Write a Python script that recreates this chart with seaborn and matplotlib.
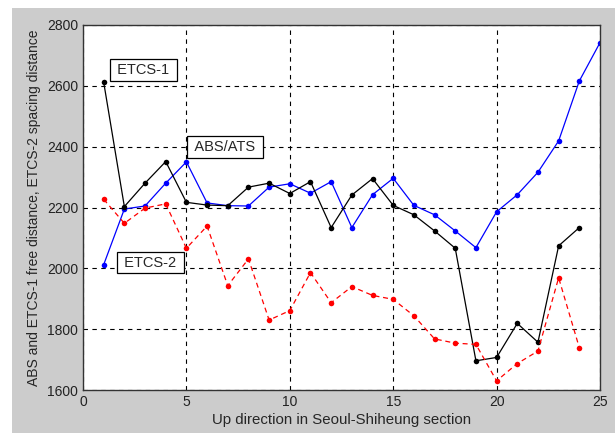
import pandas as pd
import seaborn as sns
import matplotlib.pyplot as plt
from matplotlib.patches import Rectangle

# section index along the line
sections_abs = list(range(1, 26))
sections_etcs = list(range(1, 25))

abs_ats = [2012, 2195, 2205, 2280, 2350, 2215, 2206, 2205, 2267, 2278,
           2247, 2285, 2134, 2242, 2296, 2207, 2176, 2123, 2068, 2186,
           2242, 2316, 2419, 2616, 2742]
etcs1 = [2612, 2203, 2280, 2351, 2217, 2208, 2206, 2267, 2280, 2246,
         2285, 2134, 2241, 2295, 2207, 2176, 2123, 2066, 1696, 1707,
         1819, 1757, 2074, 2134]
etcs2 = [2227, 2148, 2198, 2212, 2066, 2139, 1943, 2031, 1830, 1861,
         1986, 1887, 1940, 1911, 1898, 1844, 1768, 1754, 1750, 1630,
         1687, 1728, 1969, 1739]

df_abs = pd.DataFrame({"section": sections_abs, "dist": abs_ats})
df_e1 = pd.DataFrame({"section": sections_etcs, "dist": etcs1})
df_e2 = pd.DataFrame({"section": sections_etcs, "dist": etcs2})

sns.set_style("white")
plt.rcParams["font.family"] = ["Liberation Sans", "DejaVu Sans"]

fig = plt.figure(figsize=(6.15, 4.33), dpi=100)
fig.patch.set_facecolor("white")
# matlab-like gray figure panel
fig.patches.append(Rectangle((12 / 615, 0), 1 - 12 / 615, 1 - 8 / 433,
                             transform=fig.transFigure, facecolor="#cccccc",
                             edgecolor="none", zorder=-10))
ax = fig.add_axes([83 / 615, 1 - 390 / 433, (600 - 83) / 615, (390 - 25) / 433])
ax.set_facecolor("white")

sns.lineplot(data=df_abs, x="section", y="dist", ax=ax, color="blue",
             marker="o", markersize=4, markeredgewidth=0, linewidth=0.9)
sns.lineplot(data=df_e1, x="section", y="dist", ax=ax, color="black",
             marker="o", markersize=4, markeredgewidth=0, linewidth=0.9)
sns.lineplot(data=df_e2, x="section", y="dist", ax=ax, color="red",
             marker="o", markersize=4, markeredgewidth=0, linewidth=0.9,
             linestyle=(0, (4, 3)))

ax.set_xlim(0, 25)
ax.set_ylim(1600, 2800)
ax.set_xticks([0, 5, 10, 15, 20, 25])
ax.set_yticks([1600, 1800, 2000, 2200, 2400, 2600, 2800])
ax.grid(True, color="black", linestyle=(0, (4, 4)), linewidth=0.8)
ax.tick_params(direction="in", length=4, labelsize=10, colors="#222222")
for s in ax.spines.values():
    s.set_color("#333333")
    s.set_linewidth(1.0)

ax.set_xlabel("Up direction in Seoul-Shiheung section", fontsize=10.8, labelpad=3)
ax.set_ylabel("ABS and ETCS-1 free distance, ETCS-2 spacing distance", fontsize=10, labelpad=4)

box = dict(boxstyle="square,pad=0.25", facecolor="white", edgecolor="black", linewidth=0.9)
ax.text(2.92, 2652, " ETCS-1 ", fontsize=10.5, ha="center", va="center", bbox=box)
ax.text(6.87, 2399, " ABS/ATS ", fontsize=10.5, ha="center", va="center", bbox=box)
ax.text(3.26, 2019, " ETCS-2 ", fontsize=10.5, ha="center", va="center", bbox=box)

fig.savefig("out.png", dpi=100)
